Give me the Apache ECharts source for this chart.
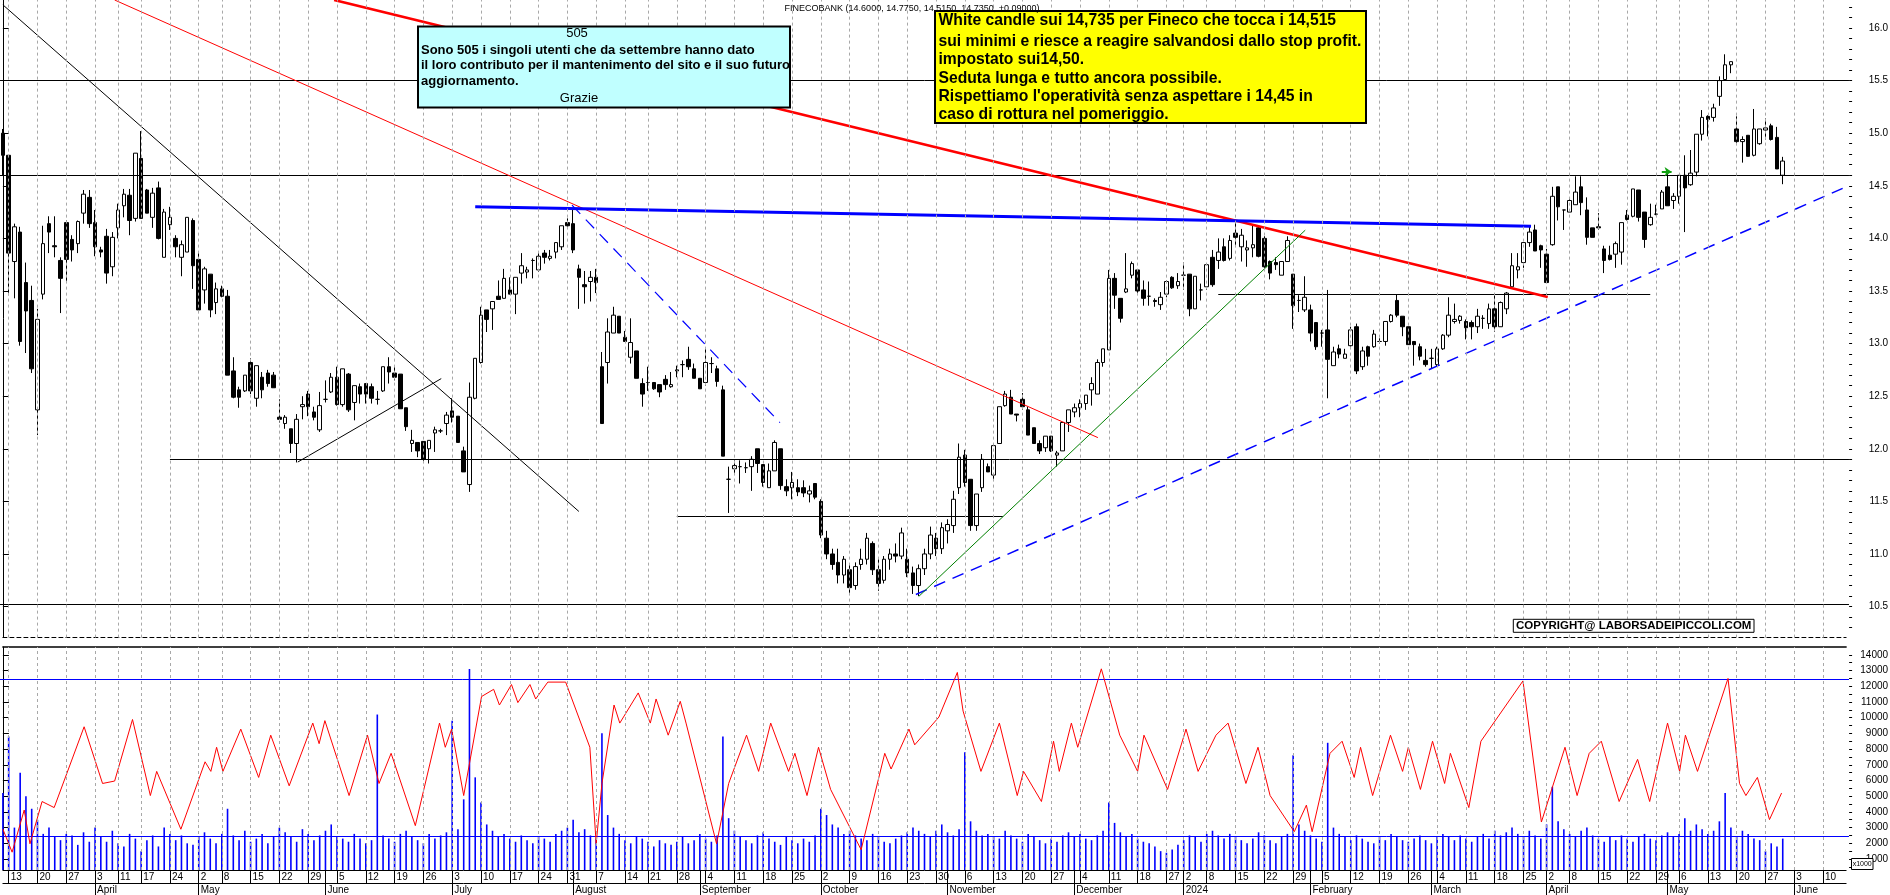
<!DOCTYPE html>
<html><head><meta charset="utf-8">
<script src="https://cdn.jsdelivr.net/npm/echarts@6/dist/echarts.min.js"></script>
<style>html,body{margin:0;padding:0;background:#fff;}#c{width:1890px;height:895px;}</style>
</head><body><div id="c"></div>
<script>
// ---------- calendar ----------
const firstDay = [2023, 2, 10];
const lastDay = [2024, 5, 14];
const holidays = ['2023-04-07','2023-04-10','2023-05-01','2023-08-15','2023-12-25','2023-12-26','2024-01-01','2024-03-29','2024-04-01','2024-05-01'];
const monthNames = ['January','February','March','April','May','June','July','August','September','October','November','December'];
const priceLabels = [10.5,11.0,11.5,12.0,12.5,13.0,13.5,14.0,14.5,15.0,15.5,16.0];
const volumeLabels = [1000,2000,3000,4000,5000,6000,7000,8000,9000,10000,11000,12000,13000,14000];

// ---------- daily candles [open, high, low, close] ----------
const ohlc = [
[15.00,15.04,14.60,14.79],[14.79,14.79,13.46,13.86],[13.78,14.14,13.43,14.11],[14.06,14.11,12.98,13.02],[13.58,13.77,12.91,13.31],
[13.41,13.55,12.72,12.76],[12.37,13.33,12.13,13.23],[13.47,14.12,13.42,13.95],[14.14,14.21,13.86,14.06],[13.93,14.21,13.82,13.92],
[13.79,13.82,13.29,13.62],[14.15,14.17,13.59,13.80],[13.99,14.03,13.78,13.89],[13.95,14.17,13.86,14.16],[14.24,14.46,14.14,14.42],
[14.39,14.46,14.10,14.14],[14.15,14.27,13.83,13.92],[13.89,13.92,13.82,13.87],[14.02,14.09,13.57,13.67],[13.73,14.06,13.64,14.01],
[14.10,14.33,14.00,14.27],[14.31,14.47,14.20,14.42],[14.41,14.47,14.03,14.17],[14.19,14.81,14.16,14.81],[14.76,15.02,14.19,14.19],
[14.46,14.47,14.24,14.24],[14.20,14.48,14.10,14.43],[14.48,14.54,13.99,14.00],[13.82,14.28,13.82,14.25],[14.13,14.30,14.08,14.20],
[14.00,14.03,13.82,13.92],[13.82,13.98,13.64,13.94],[13.87,14.20,13.87,14.20],[14.17,14.19,13.52,13.74],[13.80,13.86,13.32,13.32],
[13.51,13.73,13.38,13.71],[13.66,13.66,13.25,13.32],[13.39,13.58,13.28,13.52],[13.52,13.55,13.44,13.45],[13.45,13.51,12.70,12.70],
[12.74,12.87,12.48,12.49],[12.56,12.59,12.39,12.49],[12.55,12.70,12.54,12.70],[12.82,12.86,12.52,12.55],[12.48,12.79,12.40,12.79],
[12.68,12.73,12.48,12.56],[12.72,12.75,12.59,12.62],[12.70,12.73,12.58,12.58],[12.30,12.47,12.25,12.28],[12.24,12.32,12.19,12.30],
[12.19,12.19,11.96,12.05],[12.05,12.33,11.87,12.28],[12.40,12.50,12.28,12.42],[12.52,12.55,12.31,12.40],[12.35,12.40,12.27,12.30],
[12.18,12.54,12.16,12.41],[12.47,12.65,12.44,12.47],[12.54,12.72,12.53,12.68],[12.68,12.78,12.41,12.42],[12.42,12.76,12.40,12.76],
[12.71,12.72,12.35,12.37],[12.44,12.60,12.27,12.60],[12.59,12.62,12.43,12.52],[12.62,12.62,12.43,12.52],[12.59,12.62,12.43,12.48],
[12.47,12.55,12.42,12.47],[12.55,12.78,12.54,12.78],[12.78,12.87,12.62,12.73],[12.72,12.78,12.65,12.68],[12.71,12.71,12.38,12.38],
[12.39,12.39,12.17,12.21],[12.05,12.18,11.97,12.08],[12.06,12.06,11.92,11.98],[12.07,12.07,11.87,11.90],[12.00,12.08,11.86,12.08],
[12.15,12.21,11.97,12.18],[12.17,12.19,12.15,12.17],[12.24,12.35,12.13,12.32],[12.36,12.48,12.25,12.30],[12.31,12.31,12.06,12.06],
[11.98,12.02,11.78,11.78],[11.66,12.63,11.59,12.49],[12.48,12.86,12.47,12.86],[12.82,13.35,12.81,13.27],[13.32,13.32,13.11,13.23],
[13.33,13.40,13.13,13.40],[13.45,13.60,13.42,13.42],[13.43,13.71,13.43,13.62],[13.51,13.63,13.47,13.47],[13.47,13.63,13.28,13.63],
[13.67,13.86,13.57,13.74],[13.68,13.73,13.62,13.70],[13.79,13.81,13.62,13.79],[13.70,13.86,13.68,13.83],[13.86,13.89,13.76,13.82],
[13.81,13.89,13.79,13.83],[13.87,13.96,13.81,13.96],[13.92,14.12,13.89,14.12],[14.15,14.19,14.11,14.12],[14.14,14.27,13.86,13.89],
[13.71,13.75,13.33,13.63],[13.56,13.69,13.38,13.54],[13.59,13.69,13.40,13.63],[13.63,13.71,13.48,13.58],[12.78,12.92,12.24,12.24],
[12.82,13.24,12.62,13.11],[13.10,13.35,13.10,13.27],[13.26,13.26,13.10,13.10],[13.06,13.12,13.02,13.02],[12.87,13.24,12.81,13.01],
[12.93,12.93,12.67,12.67],[12.62,12.67,12.40,12.52],[12.63,12.78,12.55,12.63],[12.63,12.63,12.56,12.57],[12.61,12.61,12.49,12.54],
[12.66,12.70,12.56,12.61],[12.59,12.73,12.58,12.61],[12.74,12.79,12.68,12.75],[12.80,12.84,12.68,12.80],[12.85,12.97,12.75,12.78],
[12.76,12.81,12.67,12.67],[12.67,12.67,12.57,12.57],[12.63,12.95,12.60,12.82],[12.81,12.87,12.72,12.81],[12.76,12.79,12.59,12.64],
[12.56,12.60,11.93,11.93],[11.71,11.83,11.39,11.71],[11.81,11.89,11.76,11.84],[11.83,11.89,11.67,11.83],[11.82,11.87,11.77,11.82],
[11.83,11.93,11.60,11.90],[12.00,12.00,11.77,11.86],[11.85,11.85,11.64,11.68],[11.63,11.86,11.63,11.79],[11.79,12.08,11.79,12.06],
[12.00,12.00,11.61,11.65],[11.64,11.71,11.55,11.60],[11.63,11.78,11.52,11.68],[11.63,11.71,11.55,11.59],[11.63,11.70,11.54,11.58],
[11.57,11.65,11.49,11.60],[11.67,11.67,11.52,11.54],[11.50,11.52,11.15,11.18],[11.15,11.22,10.95,11.00],[11.00,11.05,10.85,10.90],
[10.92,11.05,10.72,10.80],[10.80,10.98,10.72,10.95],[10.85,10.90,10.62,10.68],[10.70,10.92,10.66,10.88],[10.90,11.05,10.85,10.95],
[10.95,11.20,10.90,11.15],[11.10,11.12,10.80,10.85],[10.85,10.95,10.65,10.72],[10.75,10.98,10.72,10.95],[10.95,11.05,10.85,11.00],
[11.00,11.10,10.92,10.98],[10.98,11.25,10.95,11.20],[10.95,11.05,10.78,10.82],[10.82,10.88,10.62,10.70],[10.70,10.90,10.60,10.86],
[10.86,11.05,10.80,11.00],[11.00,11.26,10.95,11.18],[11.15,11.20,10.98,11.05],[11.05,11.30,11.00,11.25],[11.22,11.33,11.10,11.28],
[11.27,11.60,11.20,11.52],[11.63,12.05,11.57,11.92],[11.94,11.99,11.64,11.68],[11.71,11.71,11.22,11.27],[11.27,11.57,11.22,11.57],
[11.63,11.95,11.59,11.90],[11.83,11.86,11.78,11.78],[11.75,12.03,11.71,12.03],[12.05,12.40,12.05,12.40],[12.41,12.55,12.40,12.52],
[12.49,12.56,12.33,12.33],[12.33,12.33,12.26,12.32],[12.47,12.53,12.37,12.40],[12.37,12.40,12.13,12.13],[12.20,12.20,12.05,12.05],
[12.05,12.08,11.95,11.98],[12.01,12.12,11.97,12.12],[12.12,12.12,11.97,11.98],[11.94,11.98,11.83,11.96],[11.98,12.25,11.98,12.25],
[12.25,12.37,12.16,12.37],[12.35,12.43,12.30,12.39],[12.39,12.47,12.30,12.43],[12.43,12.51,12.37,12.51],[12.56,12.68,12.41,12.62],
[12.52,12.85,12.52,12.82],[12.82,12.95,12.78,12.95],[12.94,13.70,12.94,13.62],[13.62,13.67,13.33,13.46],[13.43,13.43,13.20,13.24],
[13.49,13.86,13.48,13.52],[13.65,13.78,13.62,13.76],[13.70,13.70,13.48,13.50],[13.51,13.60,13.36,13.43],[13.45,13.59,13.36,13.45],
[13.41,13.43,13.35,13.40],[13.37,13.49,13.32,13.44],[13.47,13.60,13.44,13.59],[13.63,13.64,13.52,13.53],[13.55,13.67,13.52,13.59],
[13.65,13.77,13.51,13.65],[13.66,13.66,13.26,13.33],[13.33,13.64,13.33,13.64],[13.51,13.57,13.41,13.51],[13.54,13.75,13.51,13.75],
[13.82,13.89,13.54,13.56],[13.79,14.00,13.71,13.87],[13.92,14.00,13.78,13.79],[13.81,14.03,13.79,13.98],[14.05,14.15,13.92,14.01],
[13.92,14.09,13.78,14.03],[13.89,13.98,13.73,13.91],[13.91,14.12,13.82,13.94],[14.10,14.12,13.82,13.83],[14.00,14.02,13.72,13.73],
[13.78,13.79,13.61,13.67],[13.77,13.82,13.70,13.75],[13.65,13.78,13.65,13.78],[13.78,14.02,13.78,13.98],[13.66,13.66,13.14,13.36],
[13.41,13.46,13.30,13.41],[13.32,13.64,13.30,13.44],[13.32,13.37,13.02,13.10],[13.20,13.20,12.94,12.97],[13.10,13.13,12.97,13.10],
[13.13,13.51,12.48,12.85],[12.79,12.97,12.79,12.92],[12.95,12.99,12.86,12.90],[12.86,12.95,12.86,12.90],[12.98,13.16,12.97,13.13],
[13.16,13.19,12.71,12.74],[12.78,12.97,12.75,12.93],[12.97,12.98,12.79,12.88],[12.97,13.13,12.96,13.09],[13.02,13.05,13.00,13.02],
[13.02,13.21,12.98,13.21],[13.21,13.28,13.20,13.27],[13.41,13.47,13.25,13.27],[13.26,13.26,13.07,13.16],[13.16,13.16,12.99,12.99],
[13.02,13.02,12.79,12.99],[12.97,13.00,12.84,12.88],[12.84,12.95,12.78,12.80],[12.86,12.95,12.76,12.86],[12.80,12.97,12.78,12.95],
[12.95,13.09,12.94,13.08],[13.08,13.44,13.06,13.27],[13.21,13.38,13.19,13.23],[13.22,13.27,13.19,13.26],[13.21,13.23,13.04,13.15],
[13.20,13.22,13.04,13.16],[13.16,13.33,13.10,13.26],[13.24,13.27,13.14,13.24],[13.19,13.38,13.14,13.33],[13.33,13.46,13.11,13.16],
[13.16,13.40,13.16,13.39],[13.33,13.49,13.28,13.48],[13.54,13.86,13.52,13.74],[13.70,13.86,13.62,13.73],[13.77,13.96,13.72,13.96],
[13.96,14.11,13.92,14.06],[14.08,14.13,13.88,13.88],[13.93,13.94,13.72,13.89],[13.85,13.90,13.58,13.58],[13.94,14.49,13.93,14.40],
[14.49,14.49,14.17,14.30],[14.27,14.27,14.08,14.27],[14.25,14.39,14.25,14.36],[14.32,14.59,14.32,14.44],[14.49,14.59,14.22,14.34],
[14.27,14.39,13.94,14.01],[14.10,14.10,14.01,14.01],[14.11,14.24,14.08,14.10],[13.90,13.93,13.67,13.79],[13.84,13.93,13.79,13.80],
[13.85,13.97,13.72,13.95],[13.87,14.15,13.75,14.15],[14.22,14.27,14.17,14.18],[14.21,14.47,14.20,14.47],[14.46,14.46,14.16,14.20],
[14.25,14.25,13.91,13.99],[14.13,14.33,14.12,14.20],[14.23,14.32,14.22,14.23],[14.28,14.46,14.28,14.44],[14.49,14.62,14.31,14.31],
[14.36,14.43,14.28,14.40],[14.40,14.60,14.33,14.60],[14.60,14.79,14.06,14.48],[14.51,14.84,14.50,14.62],[14.63,14.99,14.59,14.99],
[14.99,15.22,14.93,15.15],[15.16,15.17,14.97,15.13],[15.15,15.28,15.11,15.24],[15.35,15.54,15.26,15.50],[15.51,15.75,15.51,15.65],
[15.65,15.68,15.57,15.68],[15.04,15.16,14.89,14.92],[14.92,14.97,14.72,14.94],[14.98,14.98,14.78,14.78],[14.79,15.23,14.78,15.04],
[14.90,15.04,14.89,15.04],[15.03,15.14,14.94,15.05],[15.07,15.09,14.93,14.94],[14.96,15.06,14.66,14.66],[14.60,14.775,14.515,14.735]
];

// ---------- volume (x1000) ----------
const volume = [
5200,8800,3000,6500,5000,4200,3500,2600,3000,2400, 2200,2600,2500,1900,2700,2100,3000,2400,2100,2800,
2000,1800,2600,2300,1500,2200,2500,1800,3000,2600, 2200,2500,2000,1900,2400,2700,2300,2000,2600,4200,
2500,2200,2800,2100,2300,2600,2000,2400,3000,2700, 2400,2100,2900,2600,2200,2500,2800,3200,2400,2300,
2100,2600,2300,2000,2200,10200,2500,2300,2100,2600, 2800,2400,2200,2000,2600,2300,2500,2700,9800,2900,
4800,13100,6200,4600,3200,2800,2400,2600,2300,2100, 2500,2200,2000,2400,2300,2100,2600,2800,3000,3500,
2700,2900,2500,2300,9000,3800,3000,2600,2200,2000, 2400,2300,2100,1800,2200,2000,1900,2100,2400,2000,
2200,2600,2300,2100,2500,8800,3600,2800,2400,2200, 2000,2500,2700,2300,2100,1900,2400,2200,2000,2300,
2100,2500,4200,3800,3200,3000,2600,2800,2500,2300, 2200,2600,2400,2100,2000,2300,2500,2700,3000,2800,
2600,2400,2800,3200,2700,2500,2900,7800,3400,2800, 2500,2600,2400,2300,2800,2500,2300,2100,2600,2400,
2200,2000,2300,2100,2500,2700,2400,2600,2300,2200, 2500,2800,4600,3300,2700,2400,2600,2300,2100,2000,
1800,1500,1400,1600,1900,2200,2500,2400,2100,2600, 2800,2500,2300,2600,2400,2200,2000,2300,2700,2500,
2200,2000,2400,2600,7600,3200,2800,2500,2300,2100, 8400,3000,2600,2400,2200,2500,2300,2100,2000,2400,
2200,2600,2400,2200,2100,2300,2500,2200,2000,2400, 2600,2400,2200,2500,2300,2100,2400,2600,2300,2800,
2500,2700,3000,2600,2400,2800,2500,2300,3200,5600, 3400,2900,2600,2400,2800,3000,2500,2300,2100,2400,
2200,2500,2300,2100,2400,2600,2300,2200,2500,2700, 2400,2600,3600,2800,3200,2900,2600,2800,3400,5200,
3000,2400,2800,2600,2300,2200,1500,2000,1800,2300
];

// ---------- oscillator drawn in the volume panel: [day index, value] ----------
const redLine = [[0,2900],[1.6,1435],[3.7,4120],[4.7,1970],[6.8,4660],[8.9,4275],[14.1,9420],[17.3,5810],[19.4,5965],[22.5,9885],[25.6,5040],[26.7,6580],[30.9,2895],[35.1,7190],[36.1,6580],[37.1,8115],[38.2,6580],[41.3,9270],[44.4,6195],[46.5,8885],[49.7,5660],[53.8,9655],[54.9,8345],[55.9,9810],[60.1,5040],[63.3,8885],[65.3,5810],[67.4,7730],[71.6,3125],[75.8,9655],[76.8,8115],[77.9,9270],[80,5040],[83.1,11345],[85.2,11805],[86.2,10805],[88.3,12110],[89.4,10960],[91.5,12110],[92.5,11190],[94.6,12265],[97.7,12265],[101.9,8115],[103,1970],[104,5810],[106.1,10805],[107.1,9655],[110.3,11575],[112.4,9655],[113.4,11190],[115.5,8885],[117.6,11040],[118.6,9655],[123.9,1970],[126,5810],[129.1,8885],[131.2,6580],[133.3,9655],[136.4,6580],[137.5,7730],[139.6,5040],[141.6,8115],[143.7,5430],[149,1590],[153.1,7730],[154.2,6730],[157.3,9270],[158.3,8270],[162.5,10040],[165.7,12880],[166.7,10420],[169.8,6580],[173,9655],[176.1,5040],[177.2,6580],[180.3,4660],[182.4,8500],[183.4,6580],[185.5,9655],[186.6,8115],[190.7,13110],[193.9,8885],[197,6580],[198.1,8885],[202.2,5430],[205.4,9270],[207.5,6580],[210.6,8885],[212.7,9655],[215.8,5810],[217.9,8115],[220,5040],[224.2,2740],[226.3,4430],[227.3,2740],[230.4,7730],[232.5,8500],[234.6,6195],[235.7,8115],[237.8,5040],[240.9,8885],[243,6580],[244,8115],[246.1,5430],[248.2,8500],[250.3,5810],[251.3,7730],[254.5,4275],[256.6,8500],[263.9,12340],[267.1,3355],[271.2,8115],[273.3,5040],[275.4,7730],[277.5,8500],[280.6,4660],[283.8,7345],[285.9,4660],[289,9655],[291.1,6580],[292.1,8885],[294.2,6580],[299.5,12500],[301.5,5810],[302.6,5040],[304.6,6195],[306.7,3510],[308.8,5200]];

// ---------- drawn levels and trendlines: [[day index, price], [day index, price]] ----------
const trendLines = {
  h155:   [[-0.5,15.5],[320.5,15.5]],
  h146:   [[-0.5,14.6],[320.5,14.6]],
  h1052:  [[-0.5,10.52],[320.5,10.52]],
  h119:   [[29.0,11.9],[320.5,11.9]],
  h1136:  [[117.0,11.36],[173.6,11.36]],
  h1347:  [[211.0,13.47],[286.0,13.47]],
  blackDown: [[0,16.22],[100.0,11.404]],
  blackUp:   [[51.2,11.874],[76.1,12.667]],
  redThin:   [[19.4,16.266],[190.1,12.106]],
  redThick:  [[57.5,16.266],[268.2,13.443]],
  blueFlat:  [[82.0,14.30],[265.3,14.116]],
  blueDashShort: [[98.8,14.316],[134.9,12.249]],
  blueDashLong:  [[158.5,10.615],[319.4,14.475]],
  green:     [[159.0,10.596],[226.1,14.078]]
};
const arrowMark = [[288.0,14.633],[289.7,14.633]];
const volumeLevels = [12450, 2450];

// ---------- styles ----------
const lineStyles = {
  h155:{color:'#000',width:1}, h146:{color:'#000',width:1}, h1052:{color:'#000',width:1},
  h119:{color:'#000',width:1}, h1136:{color:'#000',width:1}, h1347:{color:'#000',width:1},
  blackDown:{color:'#000',width:1}, blackUp:{color:'#000',width:1},
  redThin:{color:'#ff0000',width:1}, redThick:{color:'#ff0000',width:2.6},
  blueFlat:{color:'#0000ff',width:3},
  blueDashShort:{color:'#0000ff',width:1.2,type:[12,8]},
  blueDashLong:{color:'#0000ff',width:1.5,type:[12,8]},
  green:{color:'#008000',width:1}
};
const FONT = '"Liberation Sans", Arial, sans-serif';

// ---------- build calendar ----------
const dates = [];
(function(){
  const d = new Date(Date.UTC(firstDay[0], firstDay[1], firstDay[2]));
  const end = Date.UTC(lastDay[0], lastDay[1], lastDay[2]);
  while (d.getTime() <= end) {
    const dow = d.getUTCDay();
    const s = d.toISOString().slice(0,10);
    if (dow !== 0 && dow !== 6 && holidays.indexOf(s) < 0) dates.push(s);
    d.setUTCDate(d.getUTCDate()+1);
  }
})();
const weekStarts = new Set(), monthStarts = new Set();
for (let i = 1; i < dates.length; i++) {
  const a = new Date(dates[i-1]+'T00:00:00Z'), b = new Date(dates[i]+'T00:00:00Z');
  const gap = (b - a) / 86400000;
  if (b.getUTCDay() <= a.getUTCDay() || gap >= 7) weekStarts.add(i);
  if (b.getUTCMonth() !== a.getUTCMonth()) monthStarts.add(i);
}
const lastIdx = dates.length - 1;
const priceMinor = [];
for (let k = 103; k <= 162; k++) priceMinor.push(k/10);
const volMinor = [];
for (let k = 1; k <= 28; k++) volMinor.push(k*500);
function monthLabel(v){
  const m = +v.slice(5,7) - 1, y = v.slice(0,4);
  return m === 0 ? y : monthNames[m];
}
const PMIN = 10.205, PMAX = 16.266, VMIN = 300, VMAX = 14500;

const chart = echarts.init(document.getElementById('c'), null, {width:1890, height:895});
const gridLeft = 2.9, gridWidth = 5.76 * lastIdx;
const dashGrey = {color:'#a8a8a8', width:1, type:[3,3], opacity:1};

const lineData = Object.keys(trendLines).map(k => ({coords: trendLines[k], lineStyle: Object.assign({opacity:1}, lineStyles[k])}));
const weekIdx = Array.from(weekStarts);
const weekMarks = weekIdx.map(i => ({xAxis: dates[i]}));
const blanks = dates.map(() => '-');

function gridMarkLine(){
  return {silent:true, symbol:['none','none'], label:{show:false}, animation:false,
          lineStyle:{color:'#a8a8a8', width:1, type:[3,3], opacity:1},
          emphasis:{disabled:true}, data: weekMarks};
}

function t(x, y, text, font, align){
  return {type:'text', x:x, y:y, z:101, style:{text:text, font:font, fill:'#000', align:align||'left', verticalAlign:'middle', textAlign:align||'left', textVerticalAlign:'middle'}};
}
const yFont = 'bold 15.7px ' + FONT, cFont = 'bold 13px ' + FONT;

const option = {
  animation:false,
  backgroundColor:'#ffffff',
  textStyle:{fontFamily:FONT},
  grid:[
    {left:gridLeft, top:0, width:gridWidth, height:637.6, containLabel:false, outerBoundsMode:'none'},
    {left:gridLeft, top:647, width:gridWidth, height:223, containLabel:false, outerBoundsMode:'none'}
  ],
  xAxis:[
    {type:'category', gridIndex:0, data:dates, boundaryGap:false,
     axisLine:{show:true, lineStyle:{color:'#000', width:1, type:[4,3]}}, axisTick:{show:false}, axisLabel:{show:false},
     splitLine:{show:false}},
    {type:'value', gridIndex:0, min:0, max:lastIdx, show:false},
    {type:'category', gridIndex:1, data:dates, boundaryGap:false, position:'bottom',
     axisLine:{show:true, lineStyle:{color:'#000', width:1}},
     axisTick:{show:true, interval:(i)=>weekStarts.has(i)||monthStarts.has(i), length:13, lineStyle:{color:'#000', width:1}},
     axisLabel:{show:true, interval:(i)=>weekStarts.has(i), formatter:(v)=>String(+v.slice(8,10)), align:'left', margin:2, fontSize:10, color:'#000', fontFamily:FONT, padding:[0,0,0,2]},
     splitLine:{show:false}},
    {type:'category', gridIndex:1, data:dates, boundaryGap:false, position:'bottom', offset:13,
     axisLine:{show:true, lineStyle:{color:'#000', width:1}},
     axisTick:{show:true, interval:(i)=>monthStarts.has(i), length:12, lineStyle:{color:'#000', width:1}},
     axisLabel:{show:true, interval:(i)=>monthStarts.has(i), formatter:monthLabel, align:'left', margin:2, fontSize:10, color:'#000', fontFamily:FONT, padding:[0,0,0,2]},
     splitLine:{show:false}},
    {type:'category', gridIndex:1, data:dates, boundaryGap:false, position:'top',
     axisLine:{show:true, lineStyle:{color:'#000', width:1.5}}, axisTick:{show:false}, axisLabel:{show:false}, splitLine:{show:false}},
    {type:'value', gridIndex:1, min:0, max:lastIdx, show:false}
  ],
  yAxis:[
    {type:'value', gridIndex:0, position:'right', offset:3, min:PMIN, max:PMAX,
     axisLine:{show:true, lineStyle:{color:'#000', width:1}},
     axisTick:{show:true, customValues:priceLabels, length:6, lineStyle:{color:'#000'}},
     axisLabel:{show:true, customValues:priceLabels, formatter:(v)=>v.toFixed(1), align:'right', margin:39, fontSize:10, color:'#000', fontFamily:FONT},
     splitLine:{show:false}},
    {type:'value', gridIndex:0, position:'right', offset:3, min:PMIN, max:PMAX,
     axisLine:{show:false}, axisTick:{show:true, customValues:priceMinor, length:3, lineStyle:{color:'#000'}},
     axisLabel:{show:false}, splitLine:{show:false}},
    {type:'value', gridIndex:1, position:'right', offset:3, min:VMIN, max:VMAX,
     axisLine:{show:true, lineStyle:{color:'#000', width:1}},
     axisTick:{show:true, customValues:volumeLabels, length:6, lineStyle:{color:'#000'}},
     axisLabel:{show:true, customValues:volumeLabels, formatter:(v)=>String(Math.round(v)), align:'right', margin:39, fontSize:10, color:'#000', fontFamily:FONT},
     splitLine:{show:false}},
    {type:'value', gridIndex:1, position:'right', offset:3, min:VMIN, max:VMAX,
     axisLine:{show:false}, axisTick:{show:true, customValues:volMinor, length:3, lineStyle:{color:'#000'}},
     axisLabel:{show:false}, splitLine:{show:false}}
  ],
  series:[
    {type:'line', xAxisIndex:0, yAxisIndex:0, z:1, data:blanks, symbol:'none', silent:true,
     lineStyle:{opacity:0}, markLine: gridMarkLine()},
    {type:'line', xAxisIndex:2, yAxisIndex:2, z:1, data:blanks, symbol:'none', silent:true,
     lineStyle:{opacity:0}, markLine: gridMarkLine()},
    {type:'candlestick', xAxisIndex:0, yAxisIndex:0, z:3,
     data: ohlc.map(r => [r[0], r[3], r[2], r[1]]),
     barWidth:4,
     itemStyle:{color:'#ffffff', color0:'#000000', borderColor:'#000000', borderColor0:'#000000', borderColorDoji:'#000000', borderWidth:1}},
    {type:'lines', coordinateSystem:'cartesian2d', xAxisIndex:1, yAxisIndex:0, z:4, clip:false, silent:true,
     polyline:false, data: lineData},
    {type:'lines', coordinateSystem:'cartesian2d', xAxisIndex:1, yAxisIndex:0, z:5, clip:false, silent:true,
     symbol:['none','arrow'], symbolSize:7,
     lineStyle:{color:'#11a011', width:2, opacity:1}, data:[{coords: arrowMark}]},
    {type:'bar', xAxisIndex:2, yAxisIndex:2, z:3, barWidth:1.6, data: volume,
     itemStyle:{color:'#0000ff'}},
    {type:'line', xAxisIndex:5, yAxisIndex:2, z:4, data: redLine, symbol:'none', showSymbol:false,
     lineStyle:{color:'#ff0000', width:1}},
    {type:'lines', coordinateSystem:'cartesian2d', xAxisIndex:5, yAxisIndex:2, z:4, clip:false, silent:true,
     data: volumeLevels.map(v => ({coords:[[-0.5,v],[320.5,v]], lineStyle:{color:'#0000ff', width:1, opacity:1}}))}
  ],
  graphic:[
    t(784.6, 8.3, 'FINECOBANK (14.6000, 14.7750, 14.5150, 14.7350, +0.09000)', '9px ' + FONT),
    {type:'rect', z:100, shape:{x:935, y:11, width:431, height:112}, style:{fill:'#ffff00', stroke:'#000', lineWidth:2}},
    t(938.5, 20.7, 'White candle sui 14,735 per Fineco che tocca i 14,515', yFont),
    t(938.5, 41.7, 'sui minimi e riesce a reagire salvandosi dallo stop profit.', yFont),
    t(938.5, 60, 'impostato sui14,50.', yFont),
    t(938.5, 78.3, 'Seduta lunga e tutto ancora possibile.', yFont),
    t(938.5, 96.7, "Rispettiamo l'operatività senza aspettare i 14,45 in", yFont),
    t(938.5, 115, 'caso di rottura nel pomeriggio.', yFont),
    {type:'rect', z:100, shape:{x:418, y:26.5, width:372, height:81}, style:{fill:'#c0ffff', stroke:'#000', lineWidth:2}},
    t(577, 33.5, '505', '13px ' + FONT, 'center'),
    t(421, 50.5, 'Sono 505 i singoli utenti che da settembre hanno dato', cFont),
    t(421, 65.7, 'il loro contributo per il mantenimento del sito e il suo futuro', cFont),
    t(421, 81, 'aggiornamento.', cFont),
    t(579, 98.5, 'Grazie', '13px ' + FONT, 'center'),
    {type:'rect', z:100, shape:{x:1513.3, y:619.3, width:240.7, height:13}, style:{fill:'#ffffff', stroke:'#000', lineWidth:1}},
    t(1633.7, 626, 'COPYRIGHT@ LABORSADEIPICCOLI.COM', 'bold 11.5px ' + FONT, 'center'),
    {type:'rect', z:100, shape:{x:1851.5, y:858.5, width:21.5, height:11}, style:{fill:'#ffffff', stroke:'#000', lineWidth:1}},
    t(1862.2, 864, 'x1000', '7px ' + FONT, 'center')
  ]
};
chart.setOption(option);
</script></body></html>
